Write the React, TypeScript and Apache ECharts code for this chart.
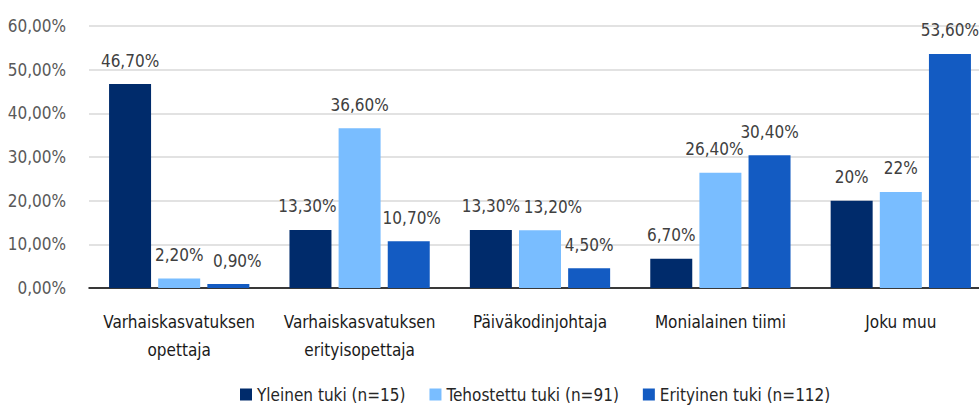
import React, { useEffect, useRef } from "react";
import * as echarts from "echarts";

const categories = [
  "Varhaiskasvatuksen\nopettaja",
  "Varhaiskasvatuksen\nerityisopettaja",
  "Päiväkodinjohtaja",
  "Monialainen tiimi",
  "Joku muu",
];
const seriesNames = ["Yleinen tuki (n=15)", "Tehostettu tuki (n=91)", "Erityinen tuki (n=112)"];
const yleinen = [46.7, 13.3, 13.3, 6.7, 20];
const tehostettu = [2.2, 36.6, 13.2, 26.4, 22];
const erityinen = [0.9, 10.7, 4.5, 30.4, 53.6];
const yleinenLabels = ["46,70%", "13,30%", "13,30%", "6,70%", "20%"];
const tehostettuLabels = ["2,20%", "36,60%", "13,20%", "26,40%", "22%"];
const erityinenLabels = ["0,90%", "10,70%", "4,50%", "30,40%", "53,60%"];
const colors = ["#002B6B", "#79BDFF", "#135BC2"];

// horizontal nudges of crowded value labels (layout only), per series and category
const labelNudge = [
  [0, -3, 0, 0, 0],
  [0, 0, 13, -6, 0],
  [9, 3, 0, 0, 0],
];

const FONT = "'DejaVu Sans Condensed', 'Liberation Sans Narrow', sans-serif";

export default function App() {
  const ref = useRef<HTMLDivElement>(null);
  useEffect(() => {
    if (!ref.current) return;
    const chart = echarts.init(ref.current, undefined, { renderer: "svg" });
    const mk = (si: number, data: number[], labels: string[]) => ({
      name: seriesNames[si],
      type: "bar",
      data: data.map((v, i) => ({ value: v, label: { offset: [labelNudge[si][i], 0] } })),
      barWidth: 42,
      barGap: "17%",
      itemStyle: { color: colors[si] },
      label: {
        show: true,
        position: "top",
        distance: 15,
        color: "#404040",
        fontFamily: FONT,
        fontSize: 17,
        formatter: (p: any) => labels[p.dataIndex],
      },
    });
    chart.setOption({
      animation: false,
      textStyle: { fontFamily: FONT },
      grid: { left: 89, right: 0, top: 26, bottom: 121, containLabel: false },
      legend: {
        top: 384,
        left: 238,
        itemWidth: 12,
        itemHeight: 12,
        itemGap: 24,
        padding: [2, 2, 2, 2],
        icon: "rect",
        textStyle: { fontFamily: FONT, fontSize: 17, color: "#262626" },
        data: seriesNames,
      },
      xAxis: {
        type: "category",
        data: categories,
        axisLine: { lineStyle: { color: "#000", width: 1.5 } },
        axisTick: { show: false },
        axisLabel: {
          interval: 0,
          margin: 20,
          fontFamily: FONT,
          fontSize: 17,
          lineHeight: 28,
          color: "#1a1a1a",
        },
      },
      yAxis: {
        type: "value",
        min: 0,
        max: 60,
        interval: 10,
        axisLine: { show: false },
        axisTick: { show: false },
        splitLine: { lineStyle: { color: "#d9d9d9", width: 1.5 } },
        axisLabel: {
          margin: 23,
          fontFamily: FONT,
          fontSize: 17,
          color: "#595959",
          formatter: (v: number) => v.toFixed(2).replace(".", ",") + "%",
        },
      },
      series: [mk(0, yleinen, yleinenLabels), mk(1, tehostettu, tehostettuLabels), mk(2, erityinen, erityinenLabels)],
    });
    return () => chart.dispose();
  }, []);
  return (
    <div style={{ position: "absolute", left: 0, top: 0, width: 979, height: 409, overflow: "hidden", background: "#fff" }}>
      <div ref={ref} style={{ width: 991, height: 409 }} />
    </div>
  );
}
